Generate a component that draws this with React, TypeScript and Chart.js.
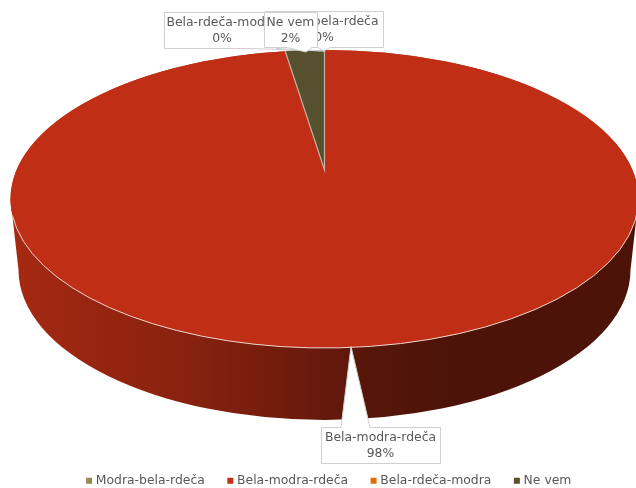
import React, { useEffect, useRef } from "react";
import { Chart, registerables } from "chart.js";

Chart.register(...registerables);

const categories = ["Modra-bela-rdeča", "Bela-modra-rdeča", "Bela-rdeča-modra", "Ne vem"];
const shares = [0, 98, 0, 2];
const sliceColors = ["#948A54", "#C02F15", "#E36C0A", "#57502F"];
const legendColors = ["#948A54", "#C0311A", "#E36C0A", "#57502F"];

const FONT = "'DejaVu Sans'";
const TEXT = "#595959";

// projected top face of the disc
const CX = 324.5, TOP_CY = 199, RX = 314, RY = 149;
// slice apex sits higher than the ellipse centre (perspective)
const APEX_Y = 170;
// bottom rim of the wall
const LOW_CY = 270, LOW_RX = 306, LOW_RY = 150;

// label callouts: box and pointer, per category index, in paint order
const callouts = [
  { i: 2, x: 164, y: 12, w: 116, h: 36, tip: [324, 51], base: [250, 276] },
  { i: 0, x: 265, y: 11, w: 118, h: 36, tip: [324, 51], base: [318, 330] },
  { i: 3, x: 264, y: 12, w: 53, h: 35, tip: [306, 52], base: [287, 312] },
  { i: 1, x: 321, y: 427, w: 119, h: 36, tip: [351, 346.5], base: [341, 370] },
];

const wallStops: [number, number][] = [
  [0, 0.87], [0.14, 0.78], [0.3, 0.7], [0.46, 0.57], [0.53, 0.5], [0.556, 0.46], [0.7, 0.4], [1, 0.4],
];

function shade(hex: string, k: number) {
  const n = parseInt(hex.slice(1), 16);
  return `rgb(${((n >> 16) & 255) * k},${((n >> 8) & 255) * k},${(n & 255) * k})`;
}

const pie3d = {
  id: "pie3d",
  beforeDatasetDraw(chart: any, args: any) {
    const ctx = chart.ctx;
    const arcs = args.meta.data;
    const big = arcs[1];

    // wall
    const g = ctx.createLinearGradient(CX - RX, 0, CX + RX, 0);
    wallStops.forEach(([p, k]) => g.addColorStop(p, shade(sliceColors[1], k)));
    ctx.save();
    ctx.fillStyle = g;
    ctx.beginPath();
    ctx.moveTo(CX - RX, TOP_CY);
    ctx.lineTo(CX - LOW_RX, LOW_CY);
    ctx.ellipse(CX, LOW_CY, LOW_RX, LOW_RY, 0, Math.PI, 0, true);
    ctx.lineTo(CX + RX, TOP_CY);
    ctx.closePath();
    ctx.fill();

    // disc under the slices, closes the gap left by the raised apex
    ctx.fillStyle = sliceColors[1];
    ctx.beginPath();
    ctx.ellipse(CX, TOP_CY, RX, RY, 0, 0, Math.PI * 2);
    ctx.fill();
    ctx.restore();

    // top faces, each slice drawn by the library's arc element
    const apexRY = APEX_Y - (TOP_CY - RY);
    arcs.forEach((arc: any, i: number) => {
      const r = big.outerRadius;
      const isBig = i === 1;
      ctx.save();
      ctx.translate(CX, isBig ? TOP_CY : APEX_Y);
      ctx.scale(RX / r, (isBig ? RY : apexRY) / r);
      ctx.translate(-arc.x, -arc.y);
      arc.draw(ctx);
      ctx.restore();
    });

    // light front rim
    ctx.save();
    ctx.strokeStyle = "#EBD5CF";
    ctx.lineWidth = 1;
    ctx.beginPath();
    ctx.ellipse(CX, TOP_CY, RX, RY, 0, 0.05, Math.PI - 0.11);
    ctx.stroke();

    // edges of the small slice
    const s = arcs[3];
    const topY = (a: number) => APEX_Y + apexRY * Math.sin(a);
    const topX = (a: number) => CX + RX * Math.cos(a);
    ctx.strokeStyle = "#BDB6A6";
    ctx.lineWidth = 1.2;
    ctx.beginPath();
    ctx.moveTo(topX(s.startAngle), topY(s.startAngle));
    ctx.lineTo(CX, APEX_Y);
    ctx.lineTo(topX(s.endAngle), topY(s.endAngle));
    ctx.stroke();
    ctx.restore();
    return false;
  },
  afterDatasetsDraw(chart: any) {
    const ctx = chart.ctx;
    const total = shares.reduce((a, b) => a + b, 0);
    ctx.save();
    callouts.forEach((c) => {
      const b = c.y + c.h;
      const tipUp = c.tip[1] < c.y;
      const edge = tipUp ? c.y : b;
      ctx.beginPath();
      ctx.moveTo(c.x + 0.5, c.y + 0.5);
      if (tipUp) {
        ctx.lineTo(c.base[0], edge + 0.5);
        ctx.lineTo(c.tip[0], c.tip[1]);
        ctx.lineTo(c.base[1], edge + 0.5);
      }
      ctx.lineTo(c.x + c.w + 0.5, c.y + 0.5);
      ctx.lineTo(c.x + c.w + 0.5, b + 0.5);
      if (!tipUp) {
        ctx.lineTo(c.base[1], edge + 0.5);
        ctx.lineTo(c.tip[0], c.tip[1]);
        ctx.lineTo(c.base[0], edge + 0.5);
      }
      ctx.lineTo(c.x + 0.5, b + 0.5);
      ctx.closePath();
      ctx.fillStyle = "#FFFFFF";
      ctx.fill();
      ctx.strokeStyle = "#D0D0D0";
      ctx.lineWidth = 1;
      ctx.stroke();

      ctx.fillStyle = TEXT;
      ctx.font = `12.4px ${FONT}`;
      ctx.textAlign = "center";
      ctx.textBaseline = "middle";
      const mid = c.x + c.w / 2;
      ctx.fillText(categories[c.i], mid, c.y + 10.5);
      ctx.fillText(`${Math.round((shares[c.i] / total) * 100)}%`, mid, c.y + 26.5);
    });
    ctx.restore();
  },
};

export default function App() {
  const ref = useRef<HTMLCanvasElement>(null);
  useEffect(() => {
    const chart = new Chart(ref.current!, {
      type: "pie",
      data: {
        labels: categories,
        datasets: [{ data: shares, backgroundColor: sliceColors, borderWidth: 0 }],
      },
      options: {
        animation: false,
        responsive: false,
        rotation: 0,
        layout: { padding: { top: 20, bottom: -9, left: 44, right: 20 } },
        plugins: {
          title: { display: false },
          tooltip: { enabled: false },
          legend: {
            display: true,
            position: "bottom",
            labels: {
              usePointStyle: true,
              pointStyle: "rect",
              boxWidth: 1,
              boxHeight: 6,
              padding: 25,
              color: TEXT,
              font: { family: FONT, size: 12.4 },
              generateLabels: () =>
                categories.map((text, i) => ({
                  text,
                  fillStyle: legendColors[i],
                  strokeStyle: legendColors[i],
                  lineWidth: 0,
                  pointStyle: "rect",
                  hidden: false,
                  index: i,
                  fontColor: TEXT,
                })),
            },
          },
        },
      },
      plugins: [pie3d],
    } as any);
    return () => chart.destroy();
  }, []);
  return (
    <div style={{ position: "absolute", left: 0, top: 0, width: 636, height: 488, overflow: "hidden", background: "#fff" }}>
      <canvas ref={ref} width={636} height={488} style={{ display: "block" }} />
    </div>
  );
}
